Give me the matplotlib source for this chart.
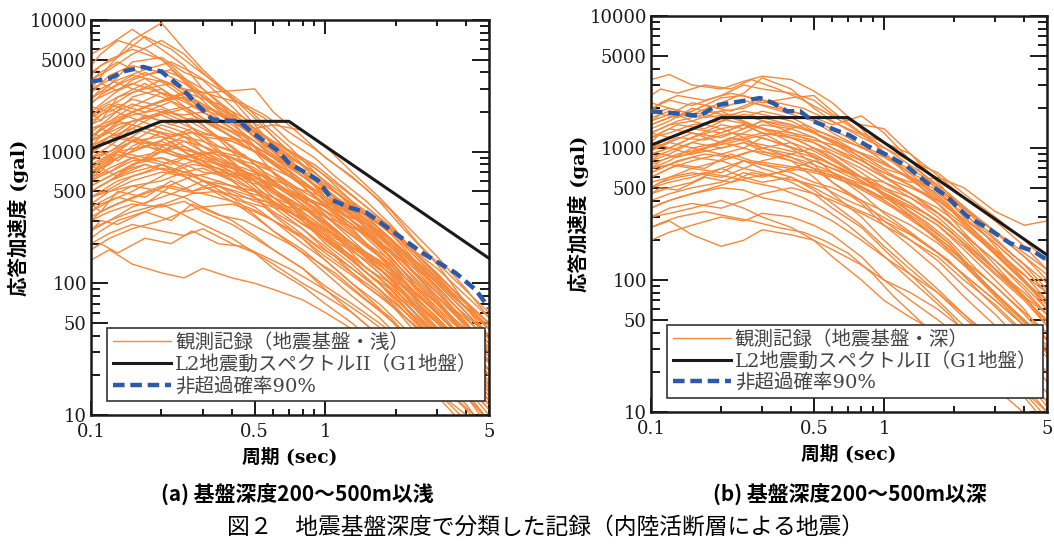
import matplotlib
matplotlib.use("Agg")
import matplotlib.pyplot as plt
from matplotlib.ticker import FixedLocator, NullFormatter

periods = [0.1, 0.12, 0.15, 0.2, 0.25, 0.3, 0.4, 0.5, 0.6, 0.8, 1.0, 1.3, 1.7, 2.2, 3.0, 4.0, 5.0]
periods_b = [0.1, 0.11, 0.13, 0.17, 0.22, 0.27, 0.35, 0.45, 0.55, 0.7, 0.9, 1.1, 1.5, 1.9, 2.5, 3.5, 5.0]

# (a) shallow basement records, response acceleration (gal), on `periods`
shallow_records = [
    [3000, 4500, 7000, 9500, 6000, 4200, 2600, 1800, 1300, 800, 520, 330, 210, 130, 75, 40, 25],
    [5500, 6500, 8500, 6000, 4500, 3000, 1900, 1300, 1000, 700, 450, 300, 190, 120, 70, 40, 28],
    [2500, 3200, 4800, 5200, 4000, 3500, 2200, 1500, 1200, 900, 650, 420, 260, 160, 90, 50, 30],
    [1800, 2200, 2800, 3500, 3000, 2800, 2900, 3000, 2000, 1300, 900, 650, 420, 250, 140, 70, 45],
    [1200, 1500, 2000, 2400, 2600, 2200, 1800, 1500, 1600, 1450, 1100, 700, 450, 280, 160, 90, 55],
    [4000, 5000, 6000, 5000, 3500, 2600, 1700, 1100, 800, 550, 380, 260, 160, 100, 60, 35, 22],
    [2000, 2600, 3500, 4200, 3600, 3000, 2000, 1400, 1000, 650, 480, 330, 250, 170, 110, 65, 45],
    [1500, 1700, 2200, 2800, 2500, 2000, 1500, 1200, 900, 600, 420, 300, 200, 140, 80, 50, 30],
    [900, 1100, 1500, 2000, 2200, 1800, 1300, 1000, 800, 550, 400, 280, 180, 110, 65, 35, 20],
    [700, 800, 1100, 1400, 1300, 1200, 1000, 850, 700, 480, 350, 240, 160, 100, 60, 35, 22],
    [1100, 1300, 1200, 1000, 1100, 900, 700, 600, 450, 320, 230, 160, 110, 70, 40, 25, 15],
    [600, 750, 900, 800, 700, 750, 600, 450, 350, 260, 180, 130, 90, 60, 35, 20, 12],
    [400, 500, 600, 700, 650, 550, 450, 380, 300, 200, 150, 100, 70, 45, 28, 16, 10],
    [300, 350, 400, 380, 420, 350, 280, 220, 180, 130, 95, 70, 50, 35, 22, 14, 9],
    [200, 240, 280, 250, 230, 260, 200, 170, 140, 100, 80, 60, 40, 28, 18, 11, 7],
    [150, 180, 140, 120, 110, 130, 110, 100, 90, 75, 60, 45, 32, 22, 15, 10, 6],
    [2200, 2000, 2500, 2200, 1800, 1500, 1100, 800, 600, 420, 300, 200, 130, 85, 50, 28, 17],
    [1700, 2100, 1800, 1500, 1300, 1000, 750, 550, 420, 300, 210, 150, 100, 65, 38, 22, 14],
    [1000, 1200, 1600, 1400, 1100, 950, 700, 520, 400, 280, 220, 160, 110, 70, 42, 25, 16],
    [800, 950, 1200, 1600, 1400, 1100, 800, 600, 500, 380, 280, 190, 130, 90, 55, 32, 20],
    [500, 600, 800, 1000, 1200, 1000, 800, 650, 520, 380, 270, 180, 120, 80, 50, 30, 18],
    [350, 420, 500, 650, 800, 900, 750, 600, 480, 350, 260, 180, 120, 75, 45, 27, 16],
    [250, 300, 380, 450, 520, 600, 550, 500, 420, 300, 220, 150, 100, 65, 40, 24, 15],
    [180, 220, 260, 300, 350, 380, 400, 350, 300, 230, 170, 120, 85, 55, 35, 20, 12],
    [1300, 1600, 2000, 1700, 1500, 1300, 1200, 1000, 850, 600, 450, 320, 230, 160, 100, 60, 40],
    [900, 1000, 1300, 1100, 900, 1000, 900, 800, 700, 500, 400, 300, 220, 150, 95, 55, 35],
    [650, 700, 850, 900, 800, 700, 650, 600, 550, 450, 380, 280, 200, 140, 85, 50, 30],
    [450, 500, 550, 600, 700, 600, 500, 420, 380, 320, 260, 200, 150, 100, 60, 35, 22],
    [3000, 3500, 3000, 2600, 2200, 1800, 1400, 1100, 900, 650, 500, 380, 280, 200, 130, 80, 55],
    [2600, 3000, 3800, 3400, 2600, 2200, 1500, 1000, 700, 450, 300, 200, 130, 80, 45, 25, 15],
    [1400, 1800, 2600, 3000, 2200, 1600, 1000, 700, 500, 330, 230, 150, 100, 60, 35, 20, 12],
    [1000, 1300, 1700, 2000, 1700, 1300, 850, 600, 450, 300, 200, 140, 90, 55, 32, 18, 11],
    [750, 900, 1200, 1300, 1000, 800, 600, 450, 330, 220, 150, 100, 65, 40, 24, 14, 8],
    [550, 650, 800, 900, 750, 600, 450, 330, 250, 170, 120, 80, 55, 35, 20, 12, 7],
    [380, 450, 550, 500, 450, 380, 300, 230, 180, 130, 90, 60, 40, 25, 15, 9, 5],
    [260, 300, 350, 400, 330, 280, 220, 170, 130, 95, 70, 50, 33, 22, 14, 8, 5],
    [1900, 2300, 2000, 2400, 2800, 2300, 1700, 1300, 1100, 800, 600, 420, 300, 200, 120, 70, 45],
    [1600, 1900, 2300, 2000, 1900, 2000, 1600, 1200, 950, 650, 480, 350, 240, 160, 95, 55, 35],
    [1200, 1400, 1700, 1900, 1600, 1400, 1200, 1000, 800, 580, 430, 300, 210, 140, 85, 50, 30],
    [850, 1000, 1200, 1100, 1300, 1100, 900, 750, 600, 430, 320, 230, 160, 110, 70, 42, 26],
    [600, 700, 900, 1000, 900, 800, 700, 650, 500, 350, 260, 190, 140, 95, 60, 36, 22],
    [450, 520, 650, 750, 700, 650, 550, 500, 420, 300, 220, 160, 110, 75, 45, 27, 17],
    [320, 380, 450, 550, 500, 480, 420, 360, 300, 220, 160, 115, 80, 55, 35, 21, 13],
    [2400, 2800, 3300, 2800, 2400, 2000, 1500, 1200, 950, 700, 520, 360, 250, 170, 100, 60, 38],
    [1500, 1600, 1900, 2100, 1800, 1700, 1300, 1100, 900, 700, 550, 400, 280, 190, 110, 65, 40],
    [3500, 4200, 5500, 7000, 5500, 4000, 2500, 1600, 1100, 700, 450, 300, 190, 120, 70, 40, 25],
    [2800, 3800, 4500, 4000, 3300, 2600, 1800, 1300, 1000, 700, 520, 370, 260, 170, 100, 60, 38],
    [700, 850, 1000, 1200, 1000, 850, 650, 500, 380, 260, 190, 130, 90, 60, 36, 21, 13],
    [500, 600, 700, 800, 650, 550, 420, 320, 250, 180, 130, 90, 62, 42, 26, 15, 9],
    [1100, 1300, 1500, 1300, 1200, 1100, 900, 720, 560, 400, 290, 200, 140, 90, 55, 32, 20],
]

# more shallow records, on `periods_b`
shallow_records_b = [
    [2000, 1700, 2600, 3300, 2500, 2900, 1900, 1500, 1100, 900, 550, 450, 260, 200, 110, 60, 30],
    [1200, 1500, 1300, 1900, 1600, 1800, 1300, 900, 800, 520, 400, 280, 170, 130, 70, 40, 20],
    [800, 700, 1000, 900, 1200, 900, 1000, 700, 600, 420, 280, 230, 130, 100, 55, 30, 15],
    [600, 750, 650, 900, 800, 950, 700, 650, 480, 400, 260, 210, 120, 90, 50, 25, 13],
    [400, 350, 500, 450, 600, 500, 550, 420, 380, 280, 200, 160, 95, 70, 40, 22, 11],
    [250, 300, 280, 350, 300, 400, 330, 300, 250, 200, 150, 120, 75, 55, 32, 18, 9],
    [180, 200, 170, 220, 200, 250, 200, 190, 160, 130, 100, 80, 55, 40, 24, 14, 8],
    [3500, 4000, 4800, 3800, 4200, 3000, 2200, 1600, 1200, 800, 550, 380, 240, 160, 90, 45, 25],
    [2800, 3300, 2900, 3600, 2700, 2400, 1600, 1300, 900, 700, 450, 350, 200, 140, 75, 40, 22],
    [1600, 1900, 2300, 2000, 2400, 1900, 1500, 1100, 950, 650, 500, 350, 230, 160, 90, 50, 30],
    [1000, 1200, 1100, 1500, 1300, 1500, 1100, 950, 700, 550, 400, 320, 200, 150, 85, 45, 25],
    [700, 800, 950, 850, 1100, 1000, 850, 750, 650, 480, 380, 290, 190, 140, 80, 45, 26],
    [500, 550, 650, 800, 700, 800, 750, 600, 550, 420, 330, 250, 170, 125, 70, 40, 22],
    [350, 400, 450, 400, 550, 500, 600, 500, 450, 350, 280, 210, 150, 110, 65, 35, 20],
    [1400, 1300, 1700, 1500, 1300, 1400, 1000, 800, 650, 480, 330, 260, 160, 110, 60, 32, 17],
    [900, 1000, 850, 1200, 950, 850, 700, 550, 480, 330, 250, 190, 120, 85, 50, 27, 14],
    [2300, 2700, 3200, 4000, 3200, 2500, 2000, 1500, 1300, 900, 700, 500, 320, 220, 130, 70, 40],
    [1800, 2200, 2600, 3000, 3300, 2700, 2300, 1800, 1500, 1000, 800, 600, 380, 260, 150, 80, 45],
    [1100, 1300, 1600, 1800, 2000, 2200, 1900, 1600, 1300, 1000, 750, 580, 380, 270, 160, 90, 50],
    [750, 850, 1000, 1100, 1300, 1400, 1300, 1200, 1000, 800, 650, 500, 340, 240, 140, 80, 45],
    [450, 500, 600, 700, 850, 950, 1000, 900, 800, 650, 520, 400, 280, 200, 120, 65, 38],
    [300, 350, 400, 480, 560, 650, 700, 650, 600, 500, 400, 320, 230, 170, 100, 55, 32],
    [220, 250, 300, 350, 420, 480, 500, 450, 420, 350, 280, 220, 160, 120, 75, 42, 25],
    [4500, 5500, 7000, 6000, 4500, 3200, 2200, 1700, 1300, 950, 650, 450, 280, 190, 110, 60, 35],
    [3800, 4500, 5200, 7500, 6000, 4500, 3200, 2300, 1600, 1100, 700, 500, 300, 200, 110, 55, 30],
    [2500, 3000, 3500, 4200, 4800, 4000, 3000, 2200, 1800, 1200, 900, 650, 420, 280, 160, 85, 50],
    [1300, 1500, 1800, 2200, 2600, 3000, 2600, 2300, 1900, 1400, 1050, 800, 520, 360, 200, 110, 60],
    [650, 750, 900, 1100, 1000, 900, 800, 700, 650, 550, 480, 420, 330, 260, 160, 90, 50],
    [550, 600, 700, 800, 700, 650, 550, 480, 420, 380, 350, 300, 240, 180, 110, 60, 33],
    [950, 1100, 1300, 1200, 1100, 1000, 850, 700, 600, 500, 420, 360, 280, 220, 140, 80, 48],
]

# (b) deep basement records, on `periods`
deep_records = [
    [3300, 3600, 3000, 2800, 3200, 3500, 3300, 2700, 2200, 1400, 900, 600, 380, 230, 130, 75, 45],
    [2000, 2300, 2100, 2500, 3000, 2800, 2600, 2300, 1800, 1500, 1400, 900, 550, 330, 180, 100, 60],
    [1800, 2000, 1800, 2200, 2600, 3400, 2800, 2000, 1600, 1200, 1000, 800, 650, 450, 300, 200, 140],
    [1500, 1700, 1900, 2400, 2500, 2200, 2400, 2500, 1900, 1300, 1100, 900, 620, 420, 280, 180, 120],
    [1300, 1500, 1600, 1900, 2000, 2300, 1900, 1700, 1500, 1750, 1300, 800, 480, 300, 190, 120, 80],
    [1000, 1200, 1400, 1700, 1900, 1800, 1600, 1300, 1100, 800, 650, 550, 600, 500, 330, 260, 280],
    [900, 1000, 1200, 1500, 1400, 1600, 1300, 1100, 900, 700, 550, 420, 300, 200, 120, 75, 45],
    [800, 900, 1100, 1300, 1500, 1300, 1200, 1000, 850, 600, 450, 300, 200, 140, 90, 55, 35],
    [700, 800, 1000, 1100, 1000, 1200, 1000, 900, 750, 600, 480, 380, 280, 190, 120, 80, 55],
    [600, 700, 800, 900, 1000, 900, 800, 700, 650, 500, 420, 350, 260, 170, 100, 60, 35],
    [500, 600, 700, 650, 800, 750, 650, 550, 500, 400, 330, 260, 190, 130, 80, 50, 30],
    [450, 500, 550, 700, 600, 550, 600, 500, 420, 330, 280, 220, 160, 110, 70, 45, 28],
    [350, 400, 450, 500, 480, 420, 380, 330, 280, 200, 150, 110, 80, 55, 35, 22, 14],
    [250, 280, 220, 180, 200, 240, 220, 200, 170, 130, 100, 80, 60, 42, 28, 18, 12],
    [1200, 1400, 1300, 1100, 1200, 1000, 850, 700, 550, 400, 280, 200, 140, 90, 55, 32, 20],
    [1100, 1000, 900, 1000, 1100, 950, 800, 600, 450, 300, 200, 130, 85, 55, 32, 18, 11],
    [1700, 1900, 1600, 1400, 1500, 1300, 1000, 750, 550, 380, 260, 180, 120, 75, 45, 27, 17],
    [2200, 2000, 1800, 1900, 1600, 1400, 1100, 850, 650, 450, 320, 230, 160, 110, 70, 45, 30],
    [950, 1100, 1000, 900, 800, 750, 700, 650, 600, 500, 400, 300, 200, 130, 75, 45, 28],
    [650, 750, 700, 800, 900, 1000, 1100, 950, 800, 600, 500, 420, 320, 220, 140, 90, 60],
    [550, 600, 650, 600, 700, 800, 900, 1000, 900, 650, 500, 380, 280, 190, 120, 75, 48],
    [400, 450, 500, 550, 650, 600, 700, 800, 700, 550, 450, 350, 260, 180, 110, 70, 45],
    [300, 350, 380, 350, 400, 450, 500, 450, 400, 320, 260, 200, 150, 100, 65, 40, 26],
    [200, 230, 260, 300, 280, 320, 300, 260, 220, 150, 100, 70, 50, 35, 22, 14, 9],
    [750, 850, 900, 1100, 1300, 1500, 1400, 1200, 1000, 750, 600, 500, 400, 280, 170, 110, 70],
    [1400, 1600, 2000, 1800, 1700, 1900, 1700, 1400, 1200, 900, 750, 600, 450, 320, 200, 130, 85],
    [1600, 1800, 2200, 2000, 2300, 2100, 1800, 1600, 1300, 1000, 850, 650, 500, 350, 230, 150, 100],
    [1000, 1100, 1300, 1200, 1400, 1600, 1500, 1300, 1150, 900, 700, 600, 480, 350, 230, 150, 110],
    [850, 950, 1100, 1000, 1100, 1000, 900, 800, 700, 600, 550, 450, 350, 250, 160, 100, 65],
    [500, 550, 600, 700, 800, 700, 600, 480, 380, 260, 180, 120, 80, 52, 32, 19, 12],
    [700, 750, 850, 800, 700, 650, 550, 450, 350, 250, 170, 110, 70, 45, 28, 16, 10],
    [300, 320, 350, 400, 350, 300, 250, 200, 150, 100, 70, 52, 40, 30, 20, 13, 8],
    [1200, 1300, 1500, 1600, 1800, 1700, 1500, 1300, 1100, 850, 680, 520, 380, 260, 160, 100, 65],
    [900, 1000, 1200, 1400, 1200, 1300, 1200, 1100, 950, 750, 600, 450, 320, 220, 140, 85, 55],
    [1300, 1200, 1400, 1300, 1500, 1400, 1300, 1200, 1000, 800, 650, 520, 400, 290, 190, 120, 80],
]

# more deep records, on `periods_b`
deep_records_b = [
    [1100, 1300, 1500, 1400, 1700, 1500, 1300, 1500, 1200, 1000, 700, 550, 380, 280, 170, 90, 50],
    [800, 900, 850, 1000, 1200, 1100, 1000, 900, 800, 650, 500, 380, 260, 190, 110, 60, 32],
    [600, 650, 750, 700, 900, 800, 750, 700, 650, 550, 430, 350, 240, 180, 110, 60, 35],
    [450, 500, 480, 600, 550, 650, 600, 550, 500, 400, 330, 270, 190, 140, 85, 48, 28],
    [1600, 1800, 1700, 2100, 1900, 2200, 2000, 1800, 1500, 1200, 900, 700, 480, 350, 210, 120, 70],
    [2500, 2800, 2600, 3000, 2800, 3300, 2800, 2300, 1900, 1500, 1100, 800, 520, 370, 220, 120, 65],
    [700, 800, 900, 1000, 1100, 1200, 1300, 1200, 1100, 1000, 850, 700, 500, 360, 220, 130, 80],
    [350, 380, 420, 480, 550, 600, 650, 700, 650, 580, 500, 420, 320, 240, 150, 90, 55],
    [1300, 1400, 1600, 1800, 1600, 1500, 1300, 1100, 900, 700, 520, 400, 270, 190, 110, 60, 35],
    [950, 1050, 1200, 1150, 1300, 1250, 1100, 950, 800, 650, 500, 400, 280, 200, 120, 70, 40],
    [250, 270, 300, 330, 300, 280, 250, 230, 200, 160, 110, 75, 45, 33, 20, 12, 7],
    [500, 550, 600, 650, 600, 550, 500, 420, 350, 260, 180, 130, 80, 55, 32, 18, 10],
    [1900, 2200, 2500, 2300, 2600, 2400, 2200, 2000, 1700, 1400, 1150, 900, 620, 450, 280, 160, 95],
    [1500, 1600, 1800, 1700, 1800, 1700, 1500, 1400, 1300, 1100, 950, 800, 600, 450, 300, 190, 120],
    [650, 700, 800, 900, 850, 950, 900, 800, 700, 580, 460, 360, 250, 180, 105, 60, 36],
]

# L2 design spectrum type II (G1 ground)
design_periods = [0.1, 0.2, 0.7, 5.0]
design_accel = [1050, 1700, 1700, 155]

# 90% non-exceedance curves
shallow_p90_periods = [0.1, 0.12, 0.14, 0.167, 0.2, 0.24, 0.29, 0.33, 0.43, 0.49, 0.62, 0.7,
                       0.93, 1.07, 1.25, 1.5, 1.9, 2.6, 3.6, 4.4, 5.0]
shallow_p90 = [3400, 3600, 4100, 4400, 4050, 3130, 2200, 1750, 1700, 1390, 1035, 820,
               610, 430, 380, 345, 255, 170, 120, 89, 65]
deep_p90_periods = [0.1, 0.124, 0.162, 0.192, 0.248, 0.294, 0.334, 0.383, 0.436, 0.495, 0.63,
                    0.71, 0.85, 1.03, 1.25, 1.53, 1.86, 2.27, 2.85, 3.47, 4.36, 5.0]
deep_p90 = [1900, 1840, 1750, 2110, 2270, 2390, 2190, 1900, 1900, 1600, 1350,
            1250, 1035, 885, 730, 545, 430, 305, 240, 190, 166, 142]

record_labels = ["観測記録（地震基盤・浅）", "観測記録（地震基盤・深）"]
design_label = "L2地震動スペクトルII（G1地盤）"
p90_label = "非超過確率90%"
sub_titles = ["(a) 基盤深度200～500m以浅", "(b) 基盤深度200～500m以深"]
caption = "図２　地震基盤深度で分類した記録（内陸活断層による地震）"

x_major = [0.1, 0.5, 1, 5]
x_minor = [0.2, 0.3, 0.4, 0.6, 0.7, 0.8, 0.9, 2, 3, 4]
y_major = [10, 50, 100, 500, 1000, 5000, 10000]
y_minor = [20, 30, 40, 60, 70, 80, 90, 200, 300, 400, 600, 700, 800, 900,
           2000, 3000, 4000, 6000, 7000, 8000, 9000]

FAM = ["DejaVu Serif", "Noto Sans CJK JP"]
ORANGE = "#f5883a"
BLUE = "#2a5aa8"

fig = plt.figure(figsize=(10.54, 5.48), dpi=100)
ax_a = fig.add_axes([0.0863, 0.2427, 0.3776, 0.7208])
ax_b = fig.add_axes([0.6176, 0.2482, 0.3757, 0.7226])


def draw_panel(ax, records, records_b, p90_t, p90_v, rec_label):
    for i, rec in enumerate(records):
        ax.plot(periods, rec, color=ORANGE, lw=1.0,
                label=rec_label if i == 0 else None, zorder=2)
    for rec in records_b:
        ax.plot(periods_b, rec, color=ORANGE, lw=1.0, zorder=2)
    ax.plot(design_periods, design_accel, color="#1a1a1a", lw=2.2,
            label=design_label, zorder=3)
    ax.plot(p90_t, p90_v, color=BLUE, lw=3.2, dashes=(2.6, 1.3),
            label=p90_label, zorder=4)
    ax.set_xscale("log")
    ax.set_yscale("log")
    ax.set_xlim(0.1, 5)
    ax.set_ylim(10, 10000)
    ax.xaxis.set_major_locator(FixedLocator(x_major))
    ax.xaxis.set_minor_locator(FixedLocator(x_minor))
    ax.yaxis.set_major_locator(FixedLocator(y_major))
    ax.yaxis.set_minor_locator(FixedLocator(y_minor))
    ax.set_xticklabels(["0.1", "0.5", "1", "5"])
    ax.set_yticklabels([str(v) for v in y_major])
    ax.xaxis.set_minor_formatter(NullFormatter())
    ax.yaxis.set_minor_formatter(NullFormatter())
    ax.tick_params(which="both", direction="in", top=True, right=True,
                   width=1.4, labelsize=13, colors="#1a1a1a")
    ax.tick_params(axis="x", which="major", length=10, pad=6)
    ax.tick_params(axis="x", which="minor", length=4.5)
    ax.tick_params(axis="y", which="major", length=12, pad=3)
    ax.tick_params(axis="y", which="minor", length=6.5)
    for lab in ax.get_xticklabels() + ax.get_yticklabels():
        lab.set_family(FAM)
    for sp in ax.spines.values():
        sp.set_linewidth(1.8)
        sp.set_color("#1a1a1a")
    ax.set_xlabel("周期 (sec)", family=FAM, fontsize=13.5, fontweight="bold", labelpad=4)
    ax.set_ylabel("応答加速度 (gal)", family=FAM, fontsize=14, fontweight="bold", labelpad=0)
    leg = ax.legend(loc="lower left", bbox_to_anchor=(0.04, 0.035, 0.95, 0.2),
                    mode="expand", fancybox=False, framealpha=1, edgecolor="#333333",
                    prop={"family": FAM, "size": 14}, handlelength=3.0,
                    handletextpad=0.2, borderpad=0.3, labelspacing=0.15,
                    borderaxespad=0)
    leg.get_frame().set_linewidth(1.2)
    for t in leg.get_texts():
        t.set_color("#444444")
    leg.set_zorder(10)


draw_panel(ax_a, shallow_records, shallow_records_b,
           shallow_p90_periods, shallow_p90, record_labels[0])
draw_panel(ax_b, deep_records, deep_records_b,
           deep_p90_periods, deep_p90, record_labels[1])

fig.text(0.282, 0.097, sub_titles[0], ha="center", va="center",
         family="Noto Sans CJK JP", fontsize=15, fontweight="bold")
fig.text(0.806, 0.097, sub_titles[1], ha="center", va="center",
         family="Noto Sans CJK JP", fontsize=15, fontweight="bold")
fig.text(0.518, 0.038, caption, ha="center", va="center",
         family="Noto Sans CJK JP", fontsize=16.4)

fig.savefig("out.png", dpi=100, facecolor="white")
